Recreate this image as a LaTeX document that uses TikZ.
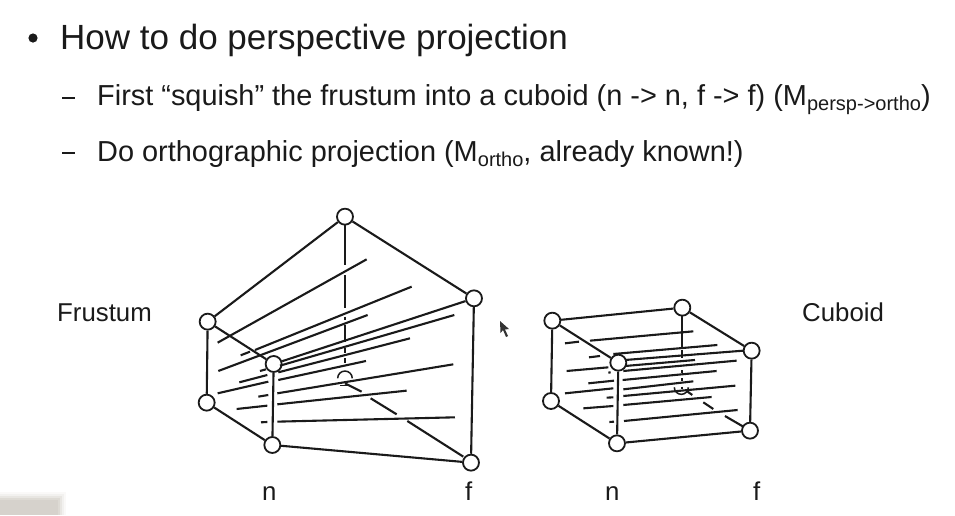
\documentclass[tikz,border=0pt]{standalone}
\usepackage{fontspec}
\setmainfont{Liberation Sans}
\definecolor{ink}{HTML}{1A1A1A}
\definecolor{patch}{HTML}{D6D2CC}
\tikzset{
  vertex/.style={circle,draw=ink,fill=white,line width=1.8pt,minimum size=16pt,inner sep=0pt},
  edge/.style={draw=ink,line width=2.1pt},
  seg/.style={draw=ink,line width=2.1pt},
  thinseg/.style={draw=ink,line width=1.5pt},
  txt/.style={anchor=base west,inner sep=0pt,text=ink},
  big/.style={font=\fontsize{35}{40}\selectfont},
  mid/.style={font=\fontsize{28.9}{34}\selectfont},
  lab/.style={font=\fontsize{25.8}{30}\selectfont}
}
\newcommand{\lowtext}[1]{\raisebox{-5pt}{\fontsize{20}{24}\selectfont #1}}
\begin{document}
\begin{tikzpicture}[x=1pt,y=-1pt]
\useasboundingbox (0,0) rectangle (955,515);
\fill[white] (0,0) rectangle (955,515);
% blurred patch in the corner
\fill[patch,opacity=.12] (0,492) rectangle (66,515);
\fill[patch,opacity=.2] (0,494) rectangle (64,515);
\fill[patch,opacity=.35] (0,496) rectangle (62,515);
\fill[patch,opacity=.6] (0,498) rectangle (60,515);
\fill[patch] (0,500) rectangle (58,515);
% text
\fill[ink] (33,38) circle (4.6pt);
\node[txt,big] (t1) at (60,49) {How to do perspective projection};
\draw[ink,line width=2.4pt] (62,98) -- (75,98);
\node[txt,mid] (t2) at (97,105.5) {First “squish” the frustum into a cuboid (n -> n, f -> f) (M\lowtext{persp->ortho})};
\draw[ink,line width=2.4pt] (62,153) -- (75,153);
\node[txt,mid] (t3) at (97,161) {Do orthographic projection (M\lowtext{ortho}, already known!)};
\node[txt,lab] (l1) at (57,321) {Frustum};
\node[txt,lab] (l2) at (802,321) {Cuboid};
\node[txt,lab] (l3) at (262,500) {n};
\node[txt,lab] (l4) at (465,500) {f};
\node[txt,lab] (l5) at (605,500) {n};
\node[txt,lab] (l6) at (753,500) {f};
% frustum
\begin{scope}[shift={(180,200)},x=0.3333pt,y=-0.3333pt]
\node[vertex] (fA) at (495,50) {};
\node[vertex] (fB) at (882,295) {};
\node[vertex] (fC) at (83,365) {};
\node[vertex] (fD) at (281,492) {};
\node[vertex] (fE) at (80,608) {};
\node[vertex] (fF) at (277,735) {};
\node[vertex] (fG) at (873,788) {};
\foreach \p/\q in {fA/fB,fA/fC,fB/fG,fC/fD,fC/fE,fE/fF,fF/fD,fF/fG,fD/fB}
  \path[edge] (\p) -- (\q);
\foreach \a/\b/\c/\d in {113/428/560/178,182/466/210/455,225/450/695/260,115/513/563/345,
  240/513/258/508,300/497/823/345,178/547/262/525,295/517/690/415,113/580/265/545,295/540/558/483,
  235/590/265/585,292/580/820/493,170/627/262/617,292/613/680/572,243/667/262/666,292/665/825/652}
  \path[seg] (\a,\b) -- (\c,\d);
\foreach \a/\b in {72/195,225/325,350/360,375/425,445/460,475/490}
  \path[seg] (494,\a) -- (494,\b);
\foreach \a/\b/\c/\d in {495/550/545/575,572/595/650/643,682/663/850/770}
  \path[seg] (\a,\b) -- (\c,\d);
\draw[thinseg] (473,535) arc[start angle=180,end angle=0,radius=7.3pt];
\draw[thinseg] (480,556) -- (510,556);
\end{scope}
% cuboid
\begin{scope}[shift={(490,290)},x=0.3333pt,y=-0.3333pt]
\node[vertex] (cA) at (187,92) {};
\node[vertex] (cB) at (577,53) {};
\node[vertex] (cC) at (785,182) {};
\node[vertex] (cD) at (385,218) {};
\node[vertex] (cE) at (183,333) {};
\node[vertex] (cF) at (381,460) {};
\node[vertex] (cG) at (780,422) {};
\foreach \p/\q in {cA/cB,cB/cC,cC/cG,cA/cD,cA/cE,cE/cF,cF/cD,cF/cG}
  \path[edge] (\p) -- (\q);
\foreach \a/\b/\c/\d in {225/160/267/155,300/152/610/124,297/202/330/198,370/192/682/165,
  405/210/760/182,230/243/355/232,405/228/615/210,355/248/362/247,400/243/740/212,
  295/280/372/272,398/270/680/243,225/310/370/295,400/298/610/274,350/323/370/322,
  400/318/736/287,280/355/370/348,400/345/665/321,358/396/372/395,402/393/743/360}
  \path[seg] (\a,\b) -- (\c,\d);
\foreach \a/\b in {75/170,180/205,240/248,265/272,290/297}
  \path[seg] (575,\a) -- (575,\b);
\foreach \a/\b/\c/\d in {590/303/607/315,640/337/670/357,705/378/760/410}
  \path[seg] (\a,\b) -- (\c,\d);
\draw[thinseg] (553,292) arc[start angle=180,end angle=360,radius=7pt];
\end{scope}
% pointer
\fill[black!80] (500,321) -- (500.5,333) -- (503,330) -- (506,337) -- (508,336) -- (505,329.5) -- (509,329) -- cycle;
\end{tikzpicture}
\end{document}
